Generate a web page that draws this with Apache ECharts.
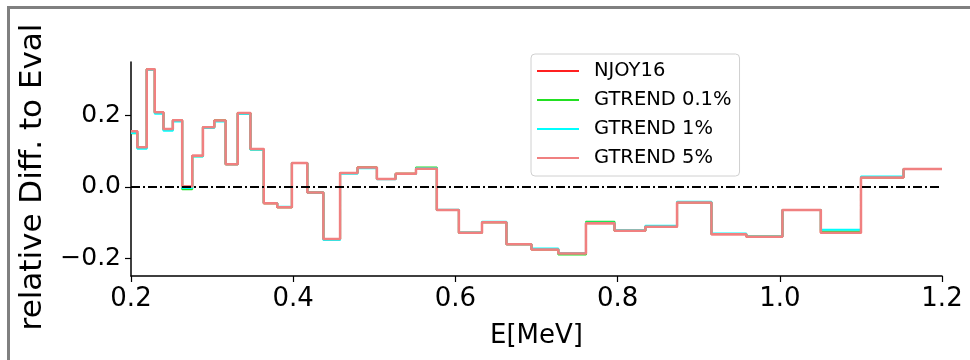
<!DOCTYPE html>
<html>
<head>
<meta charset="utf-8">
<script src="https://cdn.jsdelivr.net/npm/echarts@6/dist/echarts.min.js"></script>
<style>
  html, body { margin: 0; padding: 0; background: #fff; overflow: hidden; }
  #frame { position: absolute; left: 7px; top: 6px; width: 980px; height: 380px; border: 3px solid #808080; box-sizing: border-box; }
  #chart { position: absolute; left: 0; top: 0; width: 970px; height: 360px; }
</style>
</head>
<body>
<div id="frame"></div>
<div id="chart"></div>
<script>
// bin edges in MeV
var edges = [0.2, 0.2078, 0.2194, 0.2293, 0.240, 0.2516, 0.2631, 0.2755, 0.2887, 0.3027,
  0.3167, 0.3316, 0.3473, 0.3637, 0.3803, 0.3984, 0.4174, 0.4372, 0.4578, 0.4793,
  0.5032, 0.5263, 0.5514, 0.5771, 0.6043, 0.6328, 0.6629, 0.6938, 0.7269, 0.761,
  0.7962, 0.8342, 0.8733, 0.9157, 0.9587, 1.0032, 1.0506, 1.1001, 1.1526, 1.2];

var njoy16 = [0.156, 0.111, 0.330, 0.209, 0.162, 0.187, 0.001, 0.087, 0.167, 0.186,
  0.063, 0.207, 0.106, -0.046, -0.057, 0.067, -0.016, -0.146, 0.039, 0.054,
  0.022, 0.037, 0.051, -0.065, -0.129, -0.099, -0.161, -0.176, -0.187, -0.102,
  -0.123, -0.112, -0.044, -0.133, -0.140, -0.065, -0.129, 0.026, 0.050];

var gtrend01 = [0.150, 0.109, 0.330, 0.207, 0.160, 0.186, -0.007, 0.086, 0.167, 0.186,
  0.063, 0.206, 0.105, -0.046, -0.057, 0.067, -0.016, -0.147, 0.039, 0.054,
  0.022, 0.037, 0.054, -0.065, -0.129, -0.099, -0.161, -0.175, -0.190, -0.098,
  -0.123, -0.111, -0.043, -0.132, -0.139, -0.065, -0.125, 0.027, 0.050];

var gtrend1 = [0.151, 0.107, 0.328, 0.205, 0.157, 0.183, -0.003, 0.085, 0.165, 0.183,
  0.063, 0.204, 0.104, -0.045, -0.056, 0.067, -0.016, -0.149, 0.037, 0.052,
  0.021, 0.036, 0.052, -0.064, -0.128, -0.098, -0.161, -0.173, -0.186, -0.101,
  -0.122, -0.109, -0.042, -0.131, -0.139, -0.065, -0.120, 0.029, 0.050];

var gtrend5 = [0.156, 0.111, 0.330, 0.209, 0.162, 0.187, 0.001, 0.087, 0.167, 0.186,
  0.063, 0.207, 0.106, -0.046, -0.057, 0.067, -0.016, -0.146, 0.039, 0.054,
  0.022, 0.037, 0.051, -0.065, -0.129, -0.099, -0.161, -0.176, -0.187, -0.102,
  -0.123, -0.112, -0.044, -0.133, -0.140, -0.065, -0.129, 0.026, 0.050];

var xTicks = [0.2, 0.4, 0.6, 0.8, 1.0, 1.2];
var yTicks = [-0.2, 0, 0.2];

function steps(vals) {
  var out = [];
  for (var i = 0; i < vals.length; i++) out.push([edges[i], vals[i]]);
  out.push([edges[vals.length], vals[vals.length - 1]]);
  return out;
}

var font = 'DejaVu Sans';
var chart = echarts.init(document.getElementById('chart'), null, { renderer: 'canvas' });

function stepSeries(name, vals, color, width) {
  return {
    name: name, type: 'line', step: 'end', data: steps(vals),
    symbol: 'none', silent: true,
    lineStyle: { color: color, width: width },
    itemStyle: { color: color }
  };
}

var series = [
  stepSeries('NJOY16', njoy16, '#ff2020', 2),
  stepSeries('GTREND 0.1%', gtrend01, '#22e022', 2),
  stepSeries('GTREND 1%', gtrend1, '#00ffff', 2),
  stepSeries('GTREND 5%', gtrend5, '#f08080', 2.5)
];
series[0].markLine = {
  silent: true, symbol: 'none', label: { show: false },
  lineStyle: { color: '#000', width: 1.8, type: [9, 3, 2, 3] },
  data: [{ yAxis: 0 }]
};

chart.setOption({
  animation: false,
  textStyle: { fontFamily: font, color: '#000' },
  grid: { left: 131, right: 28, top: 62, bottom: 84 },
  legend: {
    orient: 'vertical', left: 531, top: 54,
    padding: [7, 8, 8, 6],
    itemWidth: 42, itemHeight: 2, itemGap: 9,
    icon: 'rect',
    backgroundColor: '#fff', borderColor: '#d0d0d0', borderWidth: 1, borderRadius: 4,
    textStyle: { fontFamily: font, fontSize: 19.5, color: '#000', padding: [0, 0, 0, 10], lineHeight: 20 },
    data: ['NJOY16', 'GTREND 0.1%', 'GTREND 1%', 'GTREND 5%']
  },
  xAxis: {
    type: 'value', min: 0.2, max: 1.2,
    name: 'E[MeV]', nameLocation: 'middle', nameGap: 47,
    nameTextStyle: { fontFamily: font, fontSize: 26, color: '#000' },
    axisLine: { onZero: false, lineStyle: { color: '#000', width: 1.5 } },
    axisTick: { show: true, length: 6, lineStyle: { color: '#000', width: 1.2 }, customValues: xTicks },
    axisLabel: { fontFamily: font, fontSize: 26, color: '#000', margin: 10, customValues: xTicks,
      formatter: function (v) { return v.toFixed(1); } },
    splitLine: { show: false }
  },
  yAxis: {
    type: 'value', min: -0.25, max: 0.35,
    name: 'relative Diff. to Eval', nameLocation: 'middle', nameGap: 83, nameRotate: 90,
    nameTextStyle: { fontFamily: font, fontSize: 31, color: '#000', padding: [0, 16, 0, 0] },
    axisLine: { show: true, onZero: false, lineStyle: { color: '#000', width: 1.5 } },
    axisTick: { show: true, length: 6, lineStyle: { color: '#000', width: 1.2 }, customValues: yTicks },
    axisLabel: { fontFamily: font, fontSize: 25, color: '#000', margin: 10, customValues: yTicks,
      formatter: function (v) { return (v < 0 ? '\u2212' : '') + Math.abs(v).toFixed(1); } },
    splitLine: { show: false }
  },
  series: series
});

window.addEventListener('resize', function () { chart.resize(); });
</script>
</body>
</html>
